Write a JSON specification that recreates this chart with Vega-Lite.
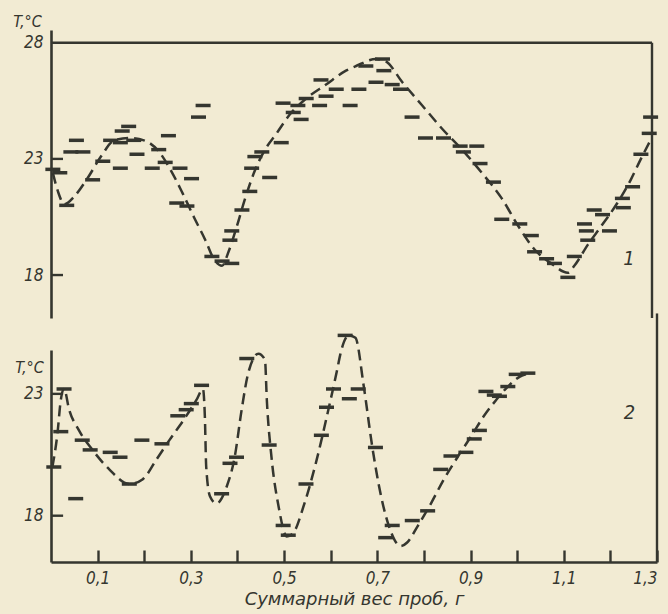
{
  "$schema": "https://vega.github.io/schema/vega-lite/v6.json",
  "background": "#f2ebd3",
  "autosize": {"type": "pad"},
  "padding": {"left": 12, "top": 13, "right": 11, "bottom": 6},
  "spacing": 32,
  "bounds": "flush",
  "config": {
    "view": {"stroke": null},
    "font": "Liberation Sans Narrow, DejaVu Sans Condensed, sans-serif",
    "axis": {
      "grid": false,
      "tickSize": -12,
      "labelPadding": 20,
      "domainColor": "#35362f",
      "domainWidth": 2.6,
      "tickColor": "#35362f",
      "tickWidth": 2.4,
      "labelColor": "#35362f",
      "labelFont": "Liberation Sans Narrow, DejaVu Sans Condensed, sans-serif",
      "labelFontStyle": "italic",
      "labelFontSize": 17,
      "titleColor": "#35362f",
      "titleFontStyle": "italic",
      "titleFontWeight": "normal"
    },
    "axisY": {"ticks": false, "labelPadding": 8}
  },
  "datasets": {
    "dashes1": [
      {"x":0.004,"t":22.55},{"x":0.019,"t":22.4},{"x":0.034,"t":21.0},{"x":0.043,"t":23.3},{"x":0.069,"t":23.3},
      {"x":0.055,"t":23.8},{"x":0.090,"t":22.1},{"x":0.112,"t":22.9},{"x":0.129,"t":23.8},{"x":0.150,"t":23.7},
      {"x":0.168,"t":24.4},{"x":0.154,"t":24.2},{"x":0.179,"t":23.8},{"x":0.150,"t":22.6},{"x":0.186,"t":23.2},
      {"x":0.219,"t":22.6},{"x":0.233,"t":23.4},{"x":0.254,"t":24.0},{"x":0.279,"t":22.6},{"x":0.304,"t":22.15},
      {"x":0.247,"t":22.85},{"x":0.272,"t":21.1},{"x":0.294,"t":20.97},{"x":0.319,"t":24.8},{"x":0.329,"t":25.3},
      {"x":0.348,"t":18.8},{"x":0.370,"t":18.6},{"x":0.391,"t":18.5},{"x":0.387,"t":19.5},{"x":0.391,"t":19.9},
      {"x":0.413,"t":20.8},{"x":0.430,"t":21.6},{"x":0.434,"t":22.6},{"x":0.441,"t":23.1},{"x":0.456,"t":23.3},
      {"x":0.473,"t":22.2},{"x":0.498,"t":23.7},{"x":0.502,"t":25.4},{"x":0.524,"t":25.0},{"x":0.541,"t":24.7},
      {"x":0.534,"t":25.3},{"x":0.552,"t":25.6},{"x":0.581,"t":25.3},{"x":0.584,"t":26.4},{"x":0.595,"t":25.7},
      {"x":0.617,"t":26.0},{"x":0.647,"t":25.3},{"x":0.666,"t":26.0},{"x":0.681,"t":27.0},{"x":0.717,"t":27.3},
      {"x":0.720,"t":26.8},{"x":0.703,"t":26.3},{"x":0.738,"t":26.2},{"x":0.756,"t":26.0},{"x":0.781,"t":24.8},
      {"x":0.810,"t":23.9},{"x":0.849,"t":23.9},{"x":0.885,"t":23.55},{"x":0.921,"t":23.55},{"x":0.892,"t":23.3},
      {"x":0.928,"t":22.8},{"x":0.957,"t":22.0},{"x":0.975,"t":20.4},{"x":1.014,"t":20.2},{"x":1.039,"t":19.7},
      {"x":1.046,"t":19.0},{"x":1.072,"t":18.7},{"x":1.089,"t":18.5},{"x":1.118,"t":17.9},{"x":1.132,"t":18.8},
      {"x":1.154,"t":20.2},{"x":1.158,"t":19.9},{"x":1.161,"t":19.5},{"x":1.175,"t":20.8},{"x":1.193,"t":20.6},
      {"x":1.208,"t":19.9},{"x":1.236,"t":21.3},{"x":1.238,"t":20.9},{"x":1.258,"t":21.8},{"x":1.276,"t":23.2},
      {"x":1.294,"t":24.1},{"x":1.297,"t":24.8}
    ],
    "curve1": [
      {"x":0.004,"t":22.4},{"x":0.015,"t":21.6},{"x":0.029,"t":21.05},{"x":0.051,"t":21.4},{"x":0.080,"t":22.2},
      {"x":0.108,"t":23.1},{"x":0.137,"t":23.8},{"x":0.169,"t":23.9},{"x":0.201,"t":23.8},{"x":0.234,"t":23.3},
      {"x":0.258,"t":22.55},{"x":0.284,"t":21.55},{"x":0.309,"t":20.5},{"x":0.334,"t":19.5},{"x":0.352,"t":18.7},
      {"x":0.370,"t":18.4},{"x":0.384,"t":19.0},{"x":0.402,"t":20.1},{"x":0.420,"t":21.3},{"x":0.441,"t":22.5},
      {"x":0.463,"t":23.4},{"x":0.488,"t":24.1},{"x":0.516,"t":24.9},{"x":0.552,"t":25.6},{"x":0.595,"t":26.2},
      {"x":0.638,"t":26.8},{"x":0.660,"t":27.0},{"x":0.703,"t":27.3},{"x":0.724,"t":27.2},{"x":0.760,"t":26.3},
      {"x":0.803,"t":25.3},{"x":0.846,"t":24.3},{"x":0.889,"t":23.4},{"x":0.932,"t":22.4},{"x":0.975,"t":21.3},
      {"x":1.011,"t":20.1},{"x":1.046,"t":19.1},{"x":1.082,"t":18.5},{"x":1.118,"t":18.1},{"x":1.132,"t":18.4},
      {"x":1.161,"t":19.3},{"x":1.190,"t":20.1},{"x":1.225,"t":21.1},{"x":1.254,"t":22.1},{"x":1.276,"t":23.0},
      {"x":1.294,"t":23.7}
    ],
    "dashes2": [
      {"x":0.006,"t":20.0},{"x":0.021,"t":21.45},{"x":0.028,"t":23.2},{"x":0.053,"t":18.7},{"x":0.067,"t":21.1},
      {"x":0.084,"t":20.7},{"x":0.127,"t":20.6},{"x":0.148,"t":20.4},{"x":0.168,"t":19.3},{"x":0.195,"t":21.1},
      {"x":0.238,"t":20.95},{"x":0.272,"t":22.1},{"x":0.290,"t":22.35},{"x":0.301,"t":22.6},{"x":0.323,"t":23.35},
      {"x":0.366,"t":18.9},{"x":0.384,"t":20.15},{"x":0.398,"t":20.4},{"x":0.420,"t":24.45},{"x":0.468,"t":20.9},
      {"x":0.498,"t":17.6},{"x":0.509,"t":17.2},{"x":0.547,"t":19.3},{"x":0.580,"t":21.3},{"x":0.591,"t":22.45},
      {"x":0.606,"t":23.2},{"x":0.631,"t":25.4},{"x":0.640,"t":22.8},{"x":0.659,"t":23.2},{"x":0.696,"t":20.8},
      {"x":0.718,"t":17.1},{"x":0.732,"t":17.6},{"x":0.775,"t":17.8},{"x":0.808,"t":18.2},{"x":0.836,"t":19.9},
      {"x":0.858,"t":20.45},{"x":0.890,"t":20.6},{"x":0.908,"t":21.15},{"x":0.919,"t":21.5},{"x":0.933,"t":23.1},
      {"x":0.951,"t":22.95},{"x":0.962,"t":22.9},{"x":0.980,"t":23.3},{"x":0.998,"t":23.8},{"x":1.023,"t":23.85}
    ],
    "curve2": [
      {"x":0.003,"t":20.0},{"x":0.014,"t":21.4},{"x":0.021,"t":22.75},{"x":0.028,"t":23.2},{"x":0.039,"t":22.35},
      {"x":0.060,"t":21.5},{"x":0.089,"t":20.7},{"x":0.125,"t":19.9},{"x":0.168,"t":19.3},{"x":0.197,"t":19.5},
      {"x":0.226,"t":20.3},{"x":0.254,"t":21.1},{"x":0.287,"t":22.0},{"x":0.312,"t":22.75},{"x":0.326,"t":23.2},
      {"x":0.330,"t":22.1},{"x":0.333,"t":20.0},{"x":0.341,"t":18.8},{"x":0.355,"t":18.5},{"x":0.377,"t":19.2},
      {"x":0.394,"t":20.4},{"x":0.409,"t":22.35},{"x":0.423,"t":23.85},{"x":0.445,"t":24.65},{"x":0.459,"t":24.4},
      {"x":0.463,"t":22.75},{"x":0.473,"t":20.4},{"x":0.488,"t":18.4},{"x":0.506,"t":17.15},{"x":0.520,"t":17.3},
      {"x":0.542,"t":18.4},{"x":0.570,"t":20.3},{"x":0.595,"t":22.35},{"x":0.614,"t":24.0},{"x":0.621,"t":24.65},
      {"x":0.639,"t":25.4},{"x":0.653,"t":25.3},{"x":0.671,"t":23.3},{"x":0.689,"t":20.85},{"x":0.707,"t":18.9},
      {"x":0.728,"t":17.4},{"x":0.750,"t":16.75},{"x":0.764,"t":16.9},{"x":0.786,"t":17.55},{"x":0.815,"t":18.5},
      {"x":0.843,"t":19.5},{"x":0.872,"t":20.4},{"x":0.901,"t":21.25},{"x":0.929,"t":22.1},{"x":0.955,"t":22.75},
      {"x":0.980,"t":23.3},{"x":1.005,"t":23.7},{"x":1.030,"t":23.85}
    ],
    "yticks1": [{"t":18},{"t":23}],
    "yticks2": [{"t":18},{"t":23}],
    "label1": [{"x":1.25,"t":18.7,"label":"1"}],
    "label2": [{"x":1.241,"t":22.2,"label":"2"}]
  },
  "vconcat": [
    {
      "width": 601,
      "height": 288,
      "layer": [
        {
          "data": {"name": "dashes1"},
          "mark": {"type": "tick", "orient": "horizontal", "size": 15, "thickness": 3.5, "opacity": 1, "color": "#35362f"},
          "encoding": {
            "x": {"field": "x", "type": "quantitative", "scale": {"domain": [0, 1.3], "nice": false, "zero": false}, "axis": null},
            "y": {"field": "t", "type": "quantitative", "scale": {"domain": [16.15, 28.55], "nice": false, "zero": false},
              "axis": {"values": [18, 23, 28], "title": "T,°C", "titleAngle": 0,
                "titleX": -24, "titleY": -9, "titleAlign": "center", "titleBaseline": "middle", "titleFontSize": 16,
                "titleFont": "Liberation Sans Narrow, DejaVu Sans Condensed, sans-serif"}}
          }
        },
        {
          "data": {"name": "curve1"},
          "mark": {"type": "line", "interpolate": "monotone", "strokeDash": [11, 6], "strokeWidth": 2.5, "color": "#35362f"},
          "encoding": {"x": {"field": "x", "type": "quantitative"}, "y": {"field": "t", "type": "quantitative"}}
        },
        {
          "data": {"name": "yticks1"},
          "mark": {"type": "rule", "strokeWidth": 2.4, "color": "#35362f"},
          "encoding": {"x": {"datum": 0}, "x2": {"datum": 0.026}, "y": {"field": "t", "type": "quantitative"}}
        },
        {
          "data": {"values": [{}]},
          "mark": {"type": "rule", "strokeWidth": 2.4, "color": "#35362f"},
          "encoding": {"x": {"datum": 0}, "x2": {"datum": 1.3}, "y": {"datum": 28}}
        },
        {
          "data": {"values": [{}]},
          "mark": {"type": "rule", "strokeWidth": 2.4, "color": "#35362f"},
          "encoding": {"x": {"datum": 1.3}, "y": {"datum": 28}, "y2": {"datum": 16.15}}
        },
        {
          "data": {"name": "label1"},
          "mark": {"type": "text", "fontSize": 20, "fontStyle": "italic", "color": "#35362f", "font": "Liberation Sans Narrow, DejaVu Sans Condensed, sans-serif"},
          "encoding": {"x": {"field": "x", "type": "quantitative"}, "y": {"field": "t", "type": "quantitative"}, "text": {"field": "label"}}
        }
      ]
    },
    {
      "width": 606,
      "height": 212,
      "layer": [
        {
          "data": {"name": "dashes2"},
          "mark": {"type": "tick", "orient": "horizontal", "size": 15, "thickness": 3.5, "opacity": 1, "color": "#35362f"},
          "encoding": {
            "x": {"field": "x", "type": "quantitative", "scale": {"domain": [0, 1.3], "nice": false, "zero": false},
              "axis": {"values": [0.1, 0.2, 0.3, 0.4, 0.5, 0.6, 0.7, 0.8, 0.9, 1.0, 1.1, 1.2, 1.3],
                "labelExpr": "indexof(['0.1','0.3','0.5','0.7','0.9','1.1','1.3'], format(datum.value, '.1f')) >= 0 ? replace(format(datum.value, '.1f'), '.', ',') : ''",
                "title": "Суммарный вес проб, г", "titleFontSize": 18, "titlePadding": 4,
                "titleFont": "DejaVu Sans, sans-serif"}},
            "y": {"field": "t", "type": "quantitative", "scale": {"domain": [16.1, 24.8], "nice": false, "zero": false},
              "axis": {"values": [18, 23], "title": "T,°C", "titleAngle": 0,
                "titleX": -22, "titleY": 17, "titleAlign": "center", "titleBaseline": "middle", "titleFontSize": 16,
                "titleFont": "Liberation Sans Narrow, DejaVu Sans Condensed, sans-serif"}}
          }
        },
        {
          "data": {"name": "curve2"},
          "mark": {"type": "line", "interpolate": "monotone", "strokeDash": [11, 6], "strokeWidth": 2.5, "color": "#35362f"},
          "encoding": {"x": {"field": "x", "type": "quantitative"}, "y": {"field": "t", "type": "quantitative"}}
        },
        {
          "data": {"name": "yticks2"},
          "mark": {"type": "rule", "strokeWidth": 2.4, "color": "#35362f"},
          "encoding": {"x": {"datum": 0}, "x2": {"datum": 0.026}, "y": {"field": "t", "type": "quantitative"}}
        },
        {
          "data": {"values": [{}]},
          "mark": {"type": "rule", "strokeWidth": 2.4, "color": "#35362f"},
          "encoding": {"x": {"datum": 1.3}, "y": {"datum": 26.3}, "y2": {"datum": 16.1}}
        },
        {
          "data": {"name": "label2"},
          "mark": {"type": "text", "fontSize": 20, "fontStyle": "italic", "color": "#35362f", "font": "Liberation Sans Narrow, DejaVu Sans Condensed, sans-serif"},
          "encoding": {"x": {"field": "x", "type": "quantitative"}, "y": {"field": "t", "type": "quantitative"}, "text": {"field": "label"}}
        }
      ]
    }
  ]
}
